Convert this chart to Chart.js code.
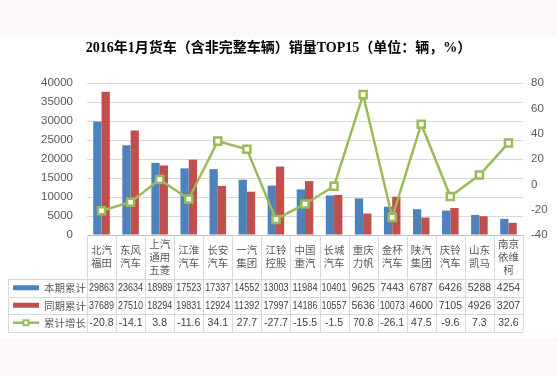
<!DOCTYPE html>
<html>
<head>
<meta charset="utf-8">
<script src="https://cdn.jsdelivr.net/npm/chart.js@4"></script>
<style>
  html, body { margin: 0; padding: 0; background: #fcf8f8; }
  #wrap { width: 557px; height: 376px; }
</style>
</head>
<body>
<div id="wrap"><canvas id="chart" width="557" height="376"></canvas></div>
<script>
// categories (line breaks as in the table header)
const brands = [
    ['北汽', '福田'], ['东风', '汽车'], ['上汽', '通用', '五菱'], ['江淮', '汽车'], ['长安', '汽车'],
    ['一汽', '集团'], ['江铃', '控股'], ['中国', '重汽'], ['长城', '汽车'], ['重庆', '力帆'],
    ['金杯', '汽车'], ['陕汽', '集团'], ['庆铃', '汽车'], ['山东', '凯马'], ['南京', '依维', '柯']
];
const currentSales = [29863, 23634, 18989, 17523, 17337, 14552, 13003, 11984, 10401, 9625, 7443, 6787, 6426, 5288, 4254];
const lastYearSales = [37689, 27510, 18294, 19831, 12924, 11392, 17997, 14186, 10557, 5636, 10073, 4600, 7105, 4926, 3207];
const growth = [-20.8, -14.1, 3.8, -11.6, 34.1, 27.7, -27.7, -15.5, -1.5, 70.8, -26.1, 47.5, -9.6, 7.3, 32.6];
const seriesNames = ['本期累计', '同期累计', '累计增长'];

const BLUE = '#4f81bd', RED = '#c0504d', GREEN = '#9bbb59';
const GRID = '#d9d9d9';
const CJK = '"Noto Sans CJK SC", sans-serif';

// background + data table under the plot
const tablePlugin = {
    id: 'dataTable',
    beforeDraw(chart) {
        const ctx = chart.ctx;
        ctx.save();
        ctx.fillStyle = '#fcf8f8';
        ctx.fillRect(0, 0, chart.width, chart.height);
        ctx.fillStyle = '#ffffff';
        ctx.fillRect(0, 37, chart.width, 301);
        ctx.restore();
    },
    afterDraw(chart) {
        const ctx = chart.ctx;
        const xs = chart.scales.x;
        const n = brands.length;
        const colW = xs.width / n;
        const top = chart.chartArea.bottom;
        const headerBottom = top + 44;
        const rowH = 17.5;
        const bottom = headerBottom + rowH * 3;
        const legendLeft = 8;
        const crisp = v => Math.round(v) + 0.5;

        ctx.save();
        ctx.strokeStyle = GRID;
        ctx.lineWidth = 1;
        // vertical lines
        for (let i = 0; i <= n; i++) {
            const xx = crisp(xs.left + i * colW);
            ctx.beginPath();
            ctx.moveTo(xx, top);
            ctx.lineTo(xx, bottom);
            ctx.stroke();
        }
        ctx.beginPath();
        ctx.moveTo(crisp(legendLeft), crisp(headerBottom));
        ctx.lineTo(crisp(legendLeft), crisp(bottom));
        ctx.stroke();
        // horizontal lines
        for (let r = 0; r <= 3; r++) {
            const yy = crisp(headerBottom + r * rowH);
            ctx.beginPath();
            ctx.moveTo(legendLeft, yy);
            ctx.lineTo(xs.right, yy);
            ctx.stroke();
        }

        // header labels
        ctx.fillStyle = '#595959';
        ctx.textAlign = 'center';
        ctx.textBaseline = 'middle';
        ctx.font = '10.5px ' + CJK;
        const mid = (top + headerBottom) / 2;
        brands.forEach((lines, i) => {
            const cx = xs.getPixelForValue(i);
            const y0 = mid - (lines.length - 1) * 13 / 2;
            lines.forEach((t, k) => ctx.fillText(t, cx, y0 + k * 13));
        });

        // values (squeezed to fit the narrow columns)
        const rows = [currentSales, lastYearSales, growth.map(v => v.toFixed(1))];
        ctx.fillStyle = '#404040';
        ctx.font = '10.5px "Liberation Sans", sans-serif';
        rows.forEach((vals, r) => {
            const cy = headerBottom + rowH * r + rowH / 2 + 0.5;
            vals.forEach((v, i) => ctx.fillText(String(v), xs.getPixelForValue(i), cy, colW - 4));
        });

        // legend keys
        ctx.textAlign = 'left';
        ctx.font = '10.5px ' + CJK;
        seriesNames.forEach((name, r) => {
            const cy = headerBottom + rowH * r + rowH / 2;
            if (r < 2) {
                ctx.fillStyle = r === 0 ? BLUE : RED;
                ctx.fillRect(13, cy - 2.5, 26, 5);
            } else {
                ctx.strokeStyle = GREEN;
                ctx.lineWidth = 2.5;
                ctx.beginPath();
                ctx.moveTo(13, cy);
                ctx.lineTo(39, cy);
                ctx.stroke();
                ctx.fillStyle = '#ffffff';
                ctx.lineWidth = 2;
                ctx.fillRect(23.5, cy - 2.5, 5, 5);
                ctx.strokeRect(23.5, cy - 2.5, 5, 5);
            }
            ctx.fillStyle = '#595959';
            ctx.fillText(name, 44, cy + 0.5);
        });
        ctx.restore();
    }
};

new Chart(
    document.getElementById('chart'),
    {
        type: 'bar',
        data: {
            labels: brands.map(b => b.join('')),
            datasets: [
                {
                    type: 'line',
                    label: seriesNames[2],
                    data: growth,
                    yAxisID: 'y1',
                    order: 0,
                    borderColor: GREEN,
                    borderWidth: 2.5,
                    tension: 0,
                    pointStyle: 'rect',
                    pointRadius: 5,
                    pointBorderWidth: 2.5,
                    pointBackgroundColor: '#ffffff',
                    pointBorderColor: GREEN
                },
                {
                    label: seriesNames[0],
                    data: currentSales,
                    yAxisID: 'y',
                    order: 1,
                    backgroundColor: BLUE,
                    categoryPercentage: 0.57,
                    barPercentage: 1.0
                },
                {
                    label: seriesNames[1],
                    data: lastYearSales,
                    yAxisID: 'y',
                    order: 1,
                    backgroundColor: RED,
                    categoryPercentage: 0.57,
                    barPercentage: 1.0
                }
            ]
        },
        options: {
            responsive: false,
            animation: false,
            devicePixelRatio: 1,
            layout: {
                padding: { left: 0, right: 0, top: 0, bottom: 141 }
            },
            scales: {
                x: {
                    ticks: { display: false },
                    grid: { display: false },
                    border: { display: true, color: '#bfbfbf' },
                    afterFit: s => { s.height = 0; }
                },
                y: {
                    position: 'left',
                    min: 0,
                    max: 40000,
                    ticks: {
                        stepSize: 5000,
                        color: '#595959',
                        padding: 14,
                        font: { family: '"Liberation Sans", sans-serif', size: 11.5 },
                        callback: v => String(v)
                    },
                    grid: { color: GRID, drawTicks: false },
                    border: { display: false },
                    afterFit: s => { s.width = 87; }
                },
                y1: {
                    position: 'right',
                    min: -40,
                    max: 80,
                    ticks: {
                        stepSize: 20,
                        color: '#595959',
                        padding: 8,
                        font: { family: '"Liberation Sans", sans-serif', size: 11.5 }
                    },
                    grid: { display: false, drawTicks: false },
                    border: { display: false },
                    afterFit: s => { s.width = 34; }
                }
            },
            plugins: {
                legend: { display: false },
                tooltip: { enabled: false },
                title: {
                    display: true,
                    text: '2016年1月货车（含非完整车辆）销量TOP15（单位：辆，%）',
                    color: '#000000',
                    font: { family: '"Liberation Serif", "Noto Sans CJK SC", serif', size: 14, weight: 'bold' },
                    padding: { top: 40, bottom: 26.2 }
                }
            }
        },
        plugins: [tablePlugin]
    }
);
</script>
</body>
</html>
